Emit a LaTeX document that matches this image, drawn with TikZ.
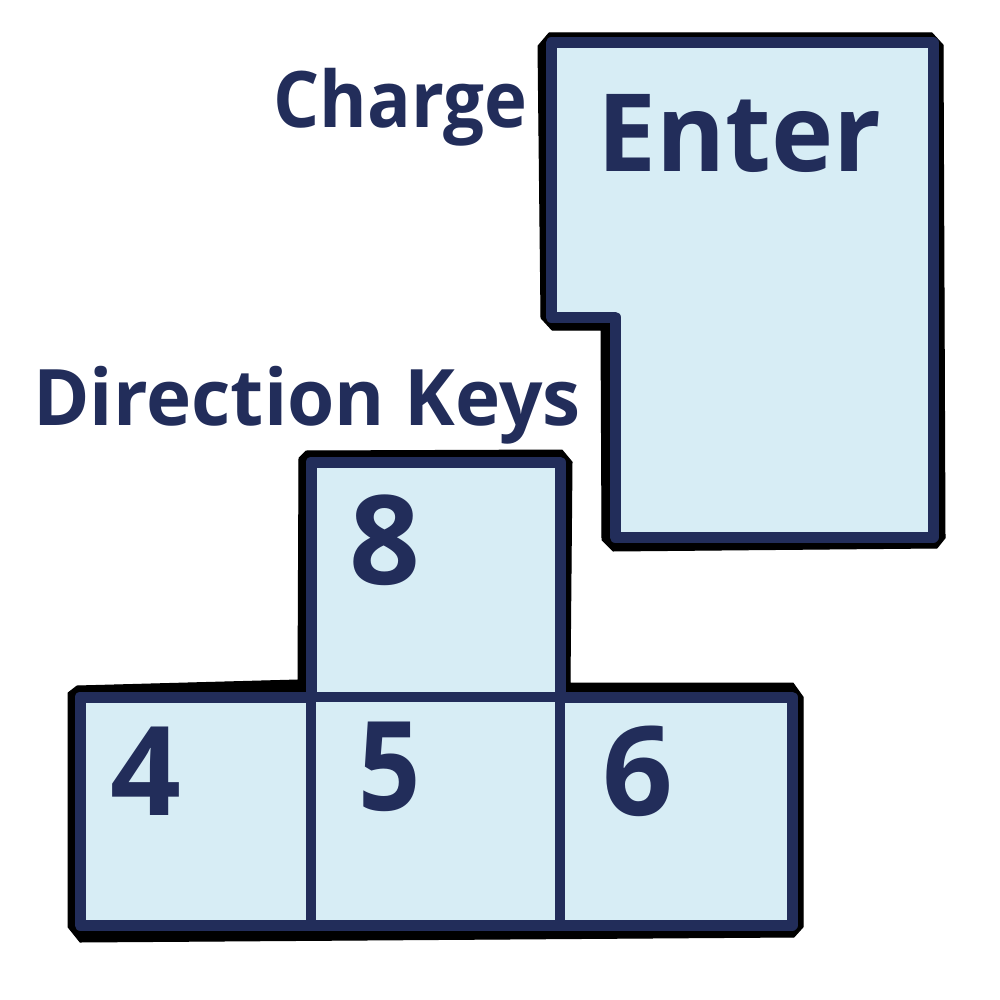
\documentclass[tikz,border=0pt]{standalone}
\usepackage{fontspec}
\setmainfont{Open Sans}
\newfontfamily\chargefont{Open Sans}[FakeStretch=0.93]
\newfontfamily\dirfont{Open Sans}[FakeStretch=0.98]
\newfontfamily\enterfont{Open Sans}[FakeStretch=0.975]
\newfontfamily\fivefont{Open Sans}[FakeStretch=0.88]
\definecolor{navy}{HTML}{222D5A}
\definecolor{keyfill}{HTML}{D7EDF5}
\tikzset{
  shadowshape/.style={fill=black, draw=black, line width=0.5pt, line join=bevel},
  keyshape/.style={draw=navy, fill=keyfill, line width=5.5pt, line join=round},
  keyline/.style={draw=navy, line width=5pt},
  labeltext/.style={text=navy, inner sep=0pt, anchor=base west},
  digit/.style={text=navy, font=\bfseries\fontsize{62}{64}\selectfont, inner sep=0pt, anchor=base west},
}
\begin{document}
\begin{tikzpicture}[x=0.5pt,y=-0.5pt]
\useasboundingbox (0,0) rectangle (1000,1000);
% black outlines
\path[shadowshape] (549,33) -- (932,33) -- (943,45) -- (945,538) -- (937,548) -- (613,551) -- (602,540)
  -- (601,330) -- (552,330) -- (541,318) -- (538,46) -- cycle;
\path[shadowshape] (77,686) -- (298,680) -- (299,458) -- (306,451) -- (562,450) -- (572,462) -- (570,683)
  -- (793,683) -- (803,697) -- (803,927) -- (794,937) -- (80,942) -- (68,927) -- (68,693) -- cycle;
% Enter key
\path[keyshape] (551,43) -- (933,43) -- (933,537) -- (615,537) -- (615,317) -- (551,317) -- cycle;
% direction keys
\path[keyshape] (80,697) -- (311,697) -- (311,462) -- (560,462) -- (560,697) -- (792,697) -- (792,925) -- (80,925) -- cycle;
\draw[keyline] (80,697) -- (792,697);
\draw[keyline] (311,697) -- (311,925);
\draw[keyline] (560,697) -- (560,925);
% texts
\node[labeltext, font=\chargefont\bfseries\fontsize{39}{40}\selectfont] (charge) at (273,128) {Charge};
\node[labeltext, font=\dirfont\bfseries\fontsize{39}{40}\selectfont] (dirkeys) at (33,425) {Direction Keys};
\node[labeltext, font=\enterfont\bfseries\fontsize{54}{56}\selectfont] (enter) at (597,172) {Enter};
\node[digit] (k8) at (349,584) {8};
\node[digit] (k4) at (110,815) {4};
\node[digit, font=\fivefont\bfseries\fontsize{62}{64}\selectfont] (k5) at (358,810) {5};
\node[digit] (k6) at (602,815) {6};
\end{tikzpicture}
\end{document}
